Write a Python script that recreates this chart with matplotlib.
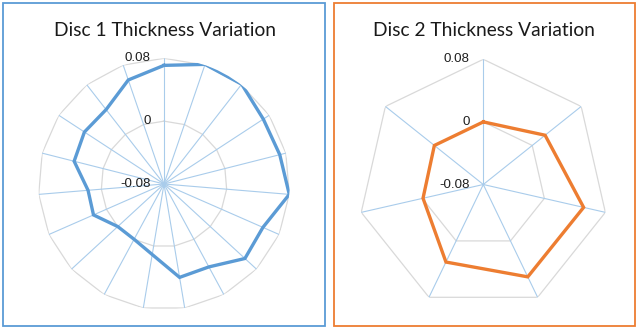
import numpy as np
import matplotlib
matplotlib.use("Agg")
import matplotlib.pyplot as plt
from matplotlib.patches import Rectangle

# ---- data ----
disc1_values = [0.071, 0.081, 0.081, 0.071, 0.072, 0.080, 0.0575, 0.060, 0.040,
                0.0405, 0.011, 0.0, 0.0, 0.018, 0.017, 0.038, 0.041, 0.040, 0.060]
disc2_values = [0.0, 0.021, 0.0515, 0.051, 0.030, -0.001, 0.0]
titles = ["Disc 1 Thickness Variation", "Disc 2 Thickness Variation"]
rmin, rmax = -0.08, 0.08
ring_levels = [0.0, 0.08]
tick_values = [0.08, 0.0, -0.08]
tick_labels = ["0.08", "0", "-0.08"]

W, H = 640, 328
fig = plt.figure(figsize=(W / 100, H / 100), dpi=100)
fig.patch.set_facecolor("white")

line_colors = ["#5B9BD5", "#ED7D31"]
spoke_color = "#A9CCEB"
ring_color = "#D9D9D9"

# boxes (pixel extents)
boxes = [(2.7, 2.7, 325.0, 326.0), (334.0, 2.7, 635.0, 325.5)]
centers = [(164.0, 184.0, 125.7), (483.3, 184.5, 125.2)]
title_x = [165.0, 484.0]

for i, vals in enumerate([disc1_values, disc2_values]):
    x0, y0, x1, y1 = boxes[i]
    fig.add_artist(Rectangle((x0 / W, 1 - y1 / H), (x1 - x0) / W, (y1 - y0) / H,
                             transform=fig.transFigure, facecolor="white",
                             edgecolor=line_colors[i], linewidth=1.3, zorder=0))
    cx, cy, R = centers[i]
    ax = fig.add_axes([(cx - R) / W, 1 - (cy + R) / H, 2 * R / W, 2 * R / H],
                      projection="polar")
    ax.set_facecolor("none")
    ax.set_theta_zero_location("N")
    ax.set_theta_direction(-1)
    ax.set_ylim(rmin, rmax)
    ax.grid(False)
    ax.spines["polar"].set_visible(False)
    ax.set_xticks([])
    ax.set_yticks([])
    n = len(vals)
    theta = np.arange(n) * 2 * np.pi / n
    tc = np.append(theta, theta[0])
    # rings (polygonal)
    for lv in ring_levels:
        ax.plot(tc, np.full(n + 1, lv), color=ring_color, lw=0.9, zorder=1)
    # spokes
    for t in theta:
        ax.plot([t, t], [rmin, rmax], color=spoke_color, lw=0.8, zorder=2)
    # data
    ax.plot(tc, np.append(vals, vals[0]), color=line_colors[i], lw=2.4,
            solid_joinstyle="miter", zorder=3)
    # tick labels
    for tv, tl in zip(tick_values, tick_labels):
        ax.annotate(tl, xy=(0, tv), xytext=(-13.5, 0), textcoords="offset pixels",
                    ha="right", va="center", fontsize=9.6,
                    family="Liberation Sans", color="#1f1f1f")
    fig.text(title_x[i] / W, 1 - 35.5 / H, titles[i], ha="center", va="baseline",
             fontsize=13.8, family="Lato", color="#1a1a1a")

fig.savefig("out.png", dpi=100, facecolor="white")
